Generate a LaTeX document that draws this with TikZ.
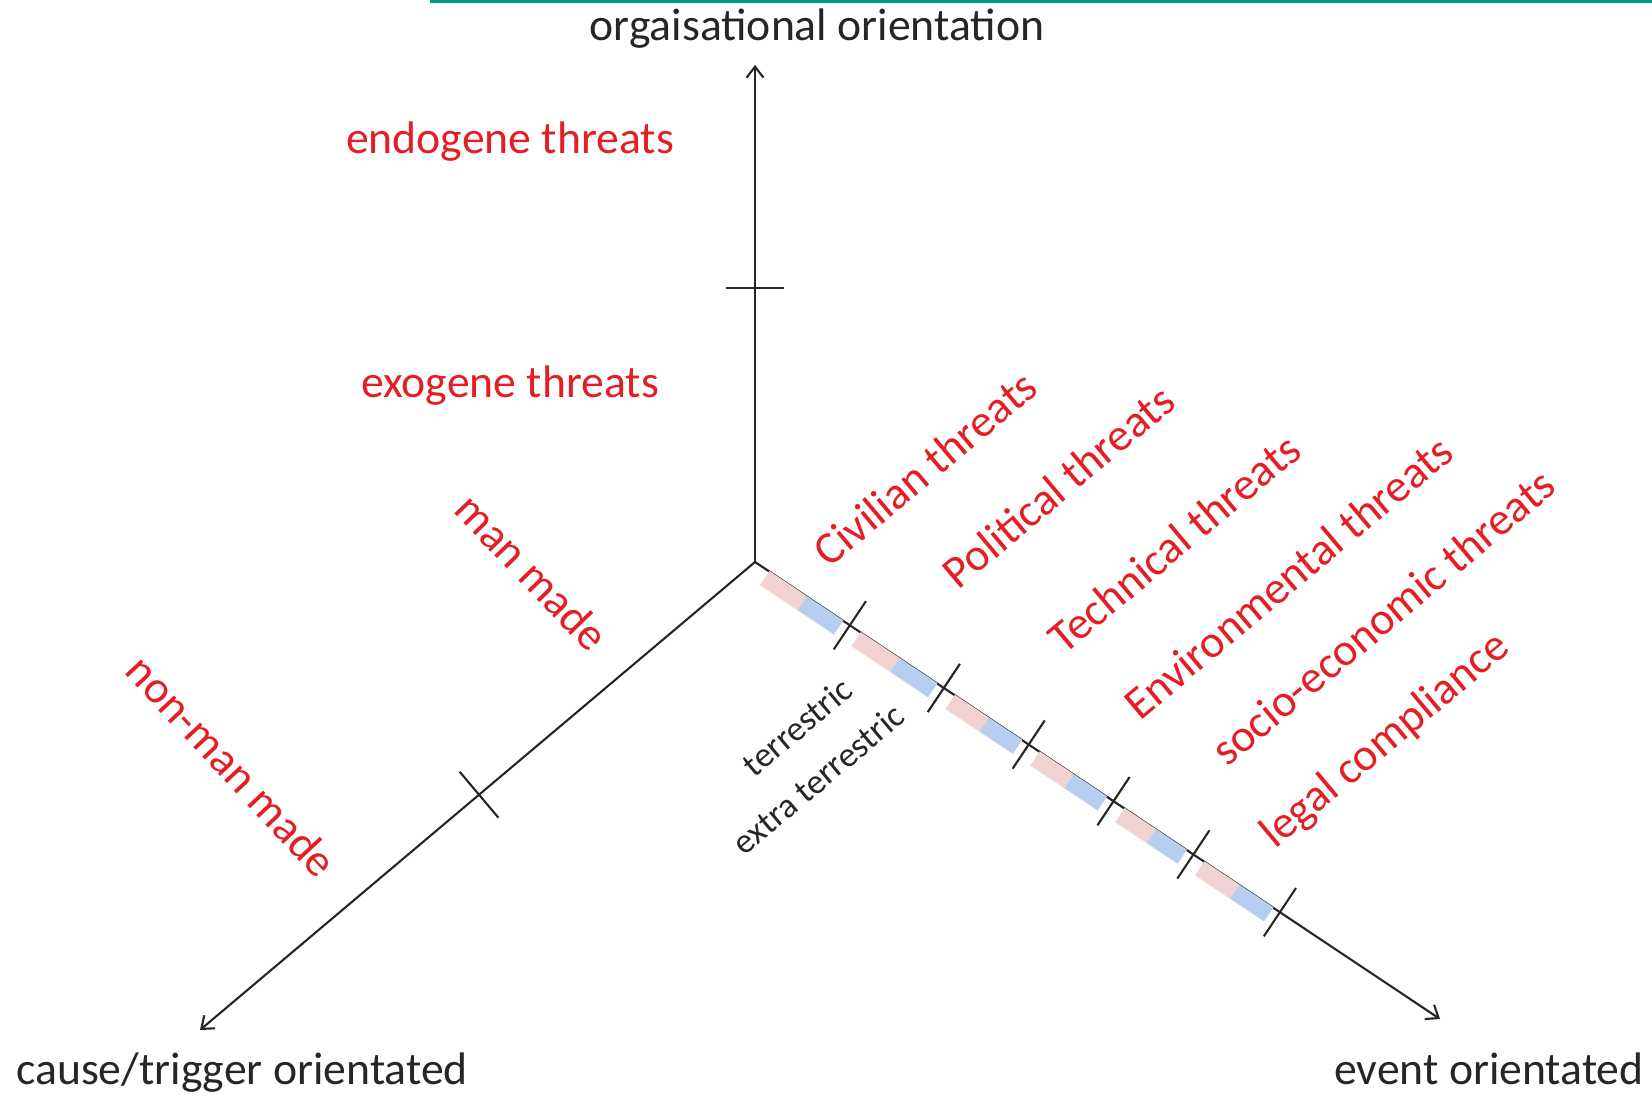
\documentclass[tikz,border=0pt]{standalone}
\usepackage{fontspec}
\setmainfont{Carlito}
\usetikzlibrary{calc, arrows.meta}

\definecolor{threatred}{RGB}{228,30,36}
\definecolor{barpink}{RGB}{240,210,210}
\definecolor{barblue}{RGB}{184,206,238}
\definecolor{frameteal}{RGB}{0,150,142}

\begin{document}
\begin{tikzpicture}[
    font=\fontsize{13}{16}\selectfont,
    >={Straight Barb[length=1.1mm, width=1.7mm]},
    axis/.style={->, line width=0.6pt, black!85},
    tick/.style={line width=0.6pt, black!85},
    threat/.style={text=threatred, inner sep=0pt},
    axlabel/.style={text=black!85, inner sep=0pt, anchor=base},
    smalllabel/.style={font=\fontsize{10}{12}\selectfont, text=black!85, inner sep=0pt},
    bar/.style={line width=1.7mm}
]
\useasboundingbox (0,0) rectangle (16.52,10.96);

% Frame line at the top
\fill[frameteal] (4.30,10.925) rectangle (16.52,10.96);

% Axes
\coordinate (origin) at (7.55,5.34);
\coordinate (org_end) at (7.55,10.31);
\coordinate (cause_end) at (2.00,0.66);
\coordinate (event_end) at (14.40,0.77);

\draw[axis] (origin) -- (org_end);
\draw[axis] (origin) -- (cause_end);
\draw[axis] (origin) -- (event_end);

\node[axlabel] (org_label) at (8.17,10.55) {orgaisational orientation};
\node[axlabel] (cause_label) at (2.42,0.12) {cause/trigger orientated};
\node[axlabel] (event_label) at (14.89,0.12) {event orientated};

% Coloured bars along the event axis
\coordinate (bar_start) at ($(origin)!0.08cm!-90:(event_end)$);
\coordinate (bar_end) at ($(event_end)!0.08cm!90:(origin)$);
\foreach \a/\b in {0.04/1.14, 1.14/2.27, 2.27/3.29, 3.29/4.31, 4.31/5.27, 5.27/6.31} {
    \pgfmathsetmacro{\barA}{\a+0.13}
    \pgfmathsetmacro{\barB}{(\a+\b)/2+0.03}
    \pgfmathsetmacro{\barC}{\b-0.08}
    \draw[bar, barpink] ($(bar_start)!\barA cm!(bar_end)$) -- ($(bar_start)!\barB cm!(bar_end)$);
    \draw[bar, barblue] ($(bar_start)!\barB cm!(bar_end)$) -- ($(bar_start)!\barC cm!(bar_end)$);
}

% Ticks
\foreach \d [count=\i] in {1.14, 2.27, 3.29, 4.31, 5.27, 6.31} {
    \coordinate (t\i) at ($(origin)!\d cm!(event_end)$);
    \draw[tick] ($(t\i)!0.29cm!90:(event_end)$) -- ($(t\i)!0.29cm!-90:(event_end)$);
}
\coordinate (t_org) at ($(origin)!2.74cm!(org_end)$);
\draw[tick] ($(t_org)!0.29cm!90:(org_end)$) -- ($(t_org)!0.29cm!-90:(org_end)$);
\coordinate (t_cause) at ($(origin)!3.61cm!(cause_end)$);
\draw[tick] ($(t_cause)!0.30cm!90:(cause_end)$) -- ($(t_cause)!0.30cm!-90:(cause_end)$);

% Organisational threats
\node[threat] (endogene) at (5.10,9.54) {endogene threats};
\node[threat] (exogene) at (5.10,7.10) {exogene threats};

% Cause threats
\node[threat, rotate=-46] (man_made) at (5.32,5.24) {man made};
\node[threat, rotate=-47] (non_man_made) at (2.32,3.30) {non-man made};

% Event threats
\node[threat, rotate=40] (civilian) at (9.25,6.28) {Civilian threats};
\node[threat, rotate=40] (political) at (10.58,6.10) {Political threats};
\node[threat, rotate=40] (technical) at (11.74,5.53) {Technical threats};
\node[threat, rotate=40] (environmental) at (12.88,5.19) {Environmental threats};
\node[threat, rotate=40] (socio) at (13.83,4.79) {socio-economic threats};
\node[threat, rotate=40] (legal) at (13.86,3.55) {legal compliance};

\node[smalllabel, rotate=40] (terrestric) at (7.97,3.69) {terrestric};
\node[smalllabel, rotate=40] (extra_terrestric) at (8.18,3.17) {extra terrestric};

\end{tikzpicture}
\end{document}
